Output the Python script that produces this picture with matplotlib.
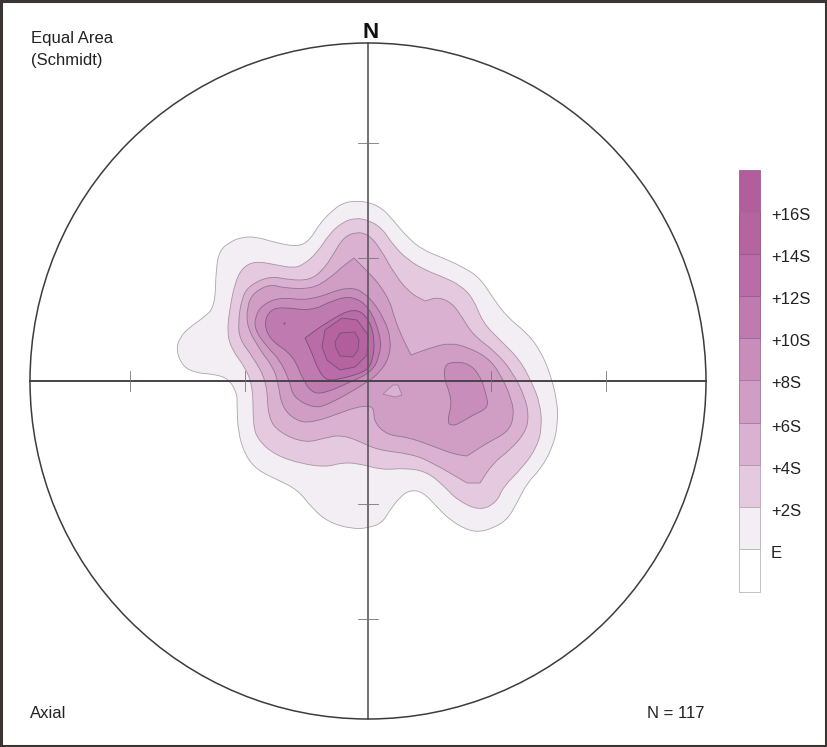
import matplotlib
matplotlib.use('Agg')
import matplotlib.pyplot as plt
from matplotlib.patches import Circle, PathPatch
from matplotlib.path import Path

plt.rcParams['font.family'] = ['Liberation Sans', 'DejaVu Sans']

# contours, (x, y) in picture pixels
# a point written twice is a sharp corner of the contour
contour_e = [(355, 201), (368, 202), (382, 208), (393, 220), (408, 238), (423, 250), (443, 258), (463, 267),
             (480, 278), (493, 298), (507, 317), (527, 333), (540, 350), (550, 373), (557, 400), (558, 423),
             (553, 447), (540, 470), (527, 483), (517, 503), (507, 520), (493, 528), (480, 532), (467, 530),
             (450, 520), (437, 507), (423, 492), (410, 490), (400, 497), (390, 510), (382, 523), (368, 528),
             (352, 529), (328, 522), (312, 508), (298, 490), (278, 480), (257, 470), (245, 455), (238, 432),
             (237, 405), (237, 393), (228, 378), (212, 374), (197, 373), (183, 367), (176, 350), (180, 337),
             (190, 327), (203, 318), (215, 307), (216, 267), (220, 250), (230, 242), (242, 237), (257, 237),
             (273, 242), (298, 247), (310, 240), (320, 223), (333, 210), (343, 203)]
contour_2s = [(355, 218), (368, 220), (382, 228), (393, 245), (408, 260), (425, 270), (443, 277), (460, 285),
              (473, 298), (483, 323), (500, 340), (520, 360), (532, 383), (540, 403), (542, 427), (537, 447),
              (523, 467), (503, 487), (497, 502), (480, 511), (457, 500), (443, 485), (427, 472), (407, 468),
              (382, 470), (357, 463), (340, 463), (327, 467), (302, 464), (275, 455), (258, 440), (253, 425),
              (253, 387), (245, 367), (232, 350), (227, 333), (230, 307), (235, 283), (242, 268), (255, 261),
              (277, 265), (293, 268), (303, 265), (317, 253), (330, 233), (343, 222)]
contour_4s = [(355, 232), (368, 234), (380, 248), (395, 275), (410, 293), (425, 301), (425, 301), (438, 297),
              (452, 303), (462, 317), (473, 335), (497, 353), (513, 373), (525, 397), (529, 417), (525, 433),
              (510, 450), (493, 463), (480, 483), (480, 483), (467, 483), (467, 483), (433, 463), (412, 454),
              (377, 450), (357, 440), (340, 435), (325, 438), (305, 443), (280, 433), (268, 418), (267, 382),
              (253, 357), (240, 340), (238, 323), (242, 297), (250, 285), (270, 276), (290, 280), (310, 280),
              (323, 270), (333, 255), (343, 238)]
contour_6s = [(354, 258), (354, 258), (368, 272), (380, 285), (390, 302), (393, 313), (400, 333), (411, 355),
              (411, 355), (433, 347), (450, 343), (467, 347), (487, 357), (500, 373), (512, 400), (514, 417),
              (508, 432), (487, 443), (467, 456), (467, 456), (453, 454), (430, 445), (407, 437), (387, 435),
              (374, 422), (374, 408), (368, 406), (357, 407), (340, 413), (315, 422), (298, 422), (282, 408),
              (278, 382), (273, 367), (260, 350), (247, 327), (247, 307), (253, 293), (270, 284), (283, 288),
              (312, 289), (330, 278), (342, 267)]
contour_8s = [(255, 317), (262, 305), (280, 297), (310, 301), (350, 285), (370, 297), (385, 320), (391, 340),
              (389, 358), (380, 372), (368, 382), (328, 405), (313, 408), (293, 397), (290, 382), (280, 360),
              (267, 347), (255, 330)]
contour_8s_east = [(445, 365), (452, 362), (468, 363), (480, 375), (487, 397), (488, 408), (473, 415), (460, 423),
                   (452, 426), (447, 422), (452, 403), (448, 388), (444, 378)]
contour_10s = [(264, 323), (270, 310), (282, 307), (312, 311), (333, 300), (353, 296), (370, 308), (381, 337),
               (380, 355), (372, 372), (348, 383), (328, 392), (313, 394), (303, 380), (293, 355), (270, 340)]
contour_12s = [(305, 338), (305, 338), (327, 322), (355, 307), (370, 320), (375, 343), (372, 363), (365, 372),
               (337, 380), (325, 380), (317, 367), (312, 353)]
contour_14s = [(322, 347), (325, 330), (342, 318), (357, 320), (368, 335), (367, 355), (355, 367), (340, 370),
               (327, 360)]
contour_16s = [(335, 342), (340, 333), (355, 332), (359, 340), (358, 350), (353, 357), (340, 356), (336, 348)]
hole_6s = [(393, 385), (383, 394), (395, 397), (402, 395), (398, 385)]

level_labels = ['E', '+2S', '+4S', '+6S', '+8S', '+10S', '+12S', '+14S', '+16S']
bin_colors = ['#ffffff', '#f3eef3', '#e5c9de', '#dab1d0', '#d09dc5', '#c88dba', '#bf7bb0', '#b96ca7', '#b6649f',
              '#b35e9c']
edge_colors = ['#aaa6aa', '#a894a6', '#9b8399', '#8f7690', '#866a88', '#7c5e80', '#744f78', '#744f78', '#744f78']


def smooth_patch(pts, **kw):
    # closed quadratic curve, the traced points act as control points
    n = len(pts)
    mids = [((pts[i][0] + pts[(i + 1) % n][0]) / 2, (pts[i][1] + pts[(i + 1) % n][1]) / 2) for i in range(n)]
    verts = [mids[-1]]
    codes = [Path.MOVETO]
    for i in range(n):
        verts += [pts[i], mids[i]]
        codes += [Path.CURVE3, Path.CURVE3]
    return PathPatch(Path(verts, codes), **kw)


fig = plt.figure(figsize=(8.27, 7.47), dpi=100)
ax = fig.add_axes([0, 0, 1, 1])
ax.set_xlim(0, 827)
ax.set_ylim(747, 0)
ax.axis('off')

cx, cy, r = 368, 381, 338

filled = [(contour_e, 0), (contour_2s, 1), (contour_4s, 2), (contour_6s, 3), (contour_8s, 4), (contour_8s_east, 4),
          (contour_10s, 5), (contour_12s, 6)]
for pts, lev in filled:
    ax.add_patch(smooth_patch(pts, facecolor=bin_colors[lev + 1], edgecolor=edge_colors[lev], lw=0.6, zorder=2))
# the two inner contours and the small hole are plain polygons in the original
for pts, lev in [(contour_14s, 7), (contour_16s, 8), (hole_6s, 2)]:
    xs, ys = zip(*pts)
    ax.fill(xs, ys, facecolor=bin_colors[lev + 1], edgecolor=edge_colors[lev], lw=0.6, zorder=3)
ax.plot([284], [323], 's', ms=1.3, color='#8a4a80', mew=0, zorder=3)

# net
ax.add_patch(Circle((cx, cy), r, fill=False, ec='#3f3a3e', lw=1.1, zorder=5))
ax.plot([cx, cx], [cy - r, cy + r], color='#5c565c', lw=1.2, zorder=4)
ax.plot([cx - r, cx + r], [cy, cy], color='#4a424a', lw=1.4, zorder=4)
for d in [-238, -123, 123, 238]:
    ax.plot([cx - 10, cx + 10], [cy + d, cy + d], color='#77727a', lw=0.6, zorder=4)
    ax.plot([cx + d, cx + d], [cy - 10, cy + 10], color='#77727a', lw=0.6, zorder=4)

# scale bar
bar_edges = [592, 549, 507, 465, 423, 380, 338, 296, 254, 212, 170]
bar_lines = ['#c4c0c4', '#c0b8c0', '#c4aabd', '#b898b0', '#aa80a4', '#a8789f', '#a06a98', '#9a6092', '#985c90',
             '#a56a9a']
for i, col in enumerate(bin_colors):
    ax.bar(749.5, bar_edges[i + 1] - bar_edges[i], bottom=bar_edges[i], width=21, color=col,
           edgecolor=bar_lines[i], lw=0.7, zorder=3)
for i, lab in enumerate(level_labels):
    ax.text(771, bar_edges[i + 1] + 4, lab, fontsize=12, va='center', ha='left', color='#222222')

ax.text(31, 38, 'Equal Area', fontsize=12, va='center', color='#222222')
ax.text(31, 60, '(Schmidt)', fontsize=12, va='center', color='#222222')
ax.text(370.5, 33, 'N', fontsize=16, fontweight='bold', ha='center', va='center', color='#111111')
ax.text(30, 713, 'Axial', fontsize=12, va='center', color='#222222')
ax.text(647, 713, 'N = 117', fontsize=12, va='center', color='#222222')

# outer frame
ax.plot([1, 825.5, 825.5, 1, 1], [1, 1, 745.5, 745.5, 1], color='#3a3533', lw=2.2, zorder=6, clip_on=False)

fig.savefig('out.png', dpi=100)
